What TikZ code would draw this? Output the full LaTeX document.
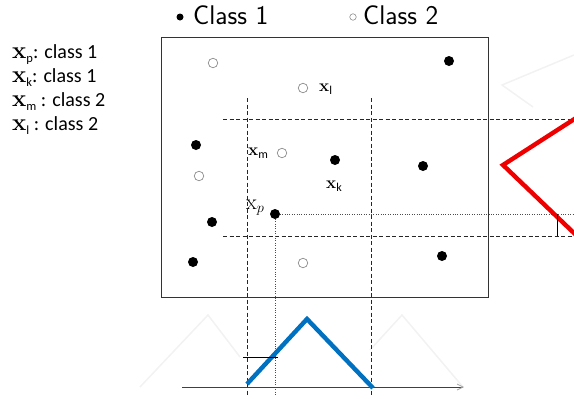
\documentclass[tikz,border=0pt]{standalone}
\usepackage{fontspec}
\newfontfamily\calib{Carlito}
\usetikzlibrary{arrows.meta}
\definecolor{myblue}{RGB}{0,112,192}
\definecolor{myred}{RGB}{238,0,0}
\newcommand\legline[2]{{\fontsize{24}{24}\selectfont\bfseries x}{\calib\fontsize{12.5}{12.5}\selectfont\raisebox{-4pt}{#1}}{\calib\fontsize{20}{20}\selectfont #2}}
\newcommand\boxlbl[1]{{\fontsize{17}{17}\selectfont\bfseries x}{\calib\fontsize{12}{12}\selectfont\raisebox{-3pt}{#1}}}
\begin{document}
\begin{tikzpicture}[x=1pt,y=-1pt,
 cone/.style={circle,fill=black,inner sep=0pt,minimum size=10pt},
 ctwo/.style={circle,draw=black!45,line width=0.7pt,fill=white,inner sep=0pt,minimum size=9.5pt},
 dsh/.style={dash pattern=on 4pt off 2.5pt, line width=0.7pt, black!85},
 dtt/.style={dash pattern=on 1pt off 1.4pt, line width=0.9pt, black!70},
 lbl/.style={inner sep=0pt, anchor=base west},
 ghost/.style={black!5, line width=1.5pt},
 tri/.style={line width=4.4pt, line join=miter}
]
\useasboundingbox (0,0) rectangle (574,399);
% ghost triangles
\draw[ghost] (140,387) -- (208,315) -- (240,357);
\draw[ghost] (370,350) -- (402,315) -- (463,387);
\draw[ghost] (574,55) -- (502,85) -- (533,107);
% legend
\node[circle,fill=black,inner sep=0pt,minimum size=7pt] (lg1) at (180,17) {};
\node[lbl,font=\sffamily\fontsize{27}{27}\selectfont] (lt1) at (193,24) {Class 1};
\node[circle,draw=black!45,line width=0.6pt,inner sep=0pt,minimum size=6.5pt] (lg2) at (353,17) {};
\node[lbl,font=\sffamily\fontsize{27}{27}\selectfont] (lt2) at (363,24) {Class 2};
% left text
\node[lbl] (tp) at (12,58) {\legline{p}{: class 1}};
\node[lbl] (tk) at (12,82) {\legline{k}{: class 1}};
\node[lbl] (tm) at (12,106) {\legline{m}{ : class 2}};
\node[lbl] (tl) at (12,130) {\legline{l}{ : class 2}};
% box
\node[draw=black!80,line width=1.1pt,inner sep=0pt,minimum width=327pt,minimum height=260pt,anchor=north west] (box) at (161,37) {};
% dashed grid
\coordinate (v1t) at (247,98); \coordinate (v1b) at (247,396);
\coordinate (v2t) at (371,98); \coordinate (v2b) at (371,396);
\coordinate (h1l) at (223,119); \coordinate (h1r) at (576,119);
\coordinate (h2l) at (223,236); \coordinate (h2r) at (576,236);
\draw[dsh] (v1t) -- (v1b);
\draw[dsh] (v2t) -- (v2b);
\draw[dsh] (h1l) -- (h1r);
\draw[dsh] (h2l) -- (h2r);
% points
\node[ctwo] (a1) at (213,63) {};
\node[cone] (a2) at (449,61) {};
\node[ctwo] (a3) at (303,88) {};
\node[cone] (a4) at (196,145) {};
\node[ctwo] (xm) at (282,153) {};
\node[cone] (xk) at (335,160) {};
\node[cone] (a5) at (423,166) {};
\node[ctwo] (a6) at (199,176) {};
\node[cone] (a7) at (212,222) {};
\node[cone] (a8) at (193,262) {};
\node[ctwo] (a9) at (303,263) {};
\node[cone] (a10) at (442,256) {};
% dotted from x_p
\coordinate (pr) at (576,214);
\coordinate (pb) at (275,396);
\draw[dtt] (275,214) -- (pr);
\draw[dtt] (275,214) -- (pb);
\node[cone] (xp) at (275,214) {};
% labels in box
\node[lbl] (ll) at (319,91) {\boxlbl{l}};
\node[lbl] (lm) at (248,155) {\boxlbl{m}};
\node[lbl] (lk) at (326,188) {\boxlbl{k}};
\node[lbl,text=black] (lp) at (246,209) {\fontsize{22}{22}\selectfont$\mathrm{x}_p$};
% red membership function
\coordinate (r1) at (576,118);
\coordinate (r2) at (503,165);
\coordinate (r3) at (576,235);
\draw[tri,myred] (r1) -- (r2) -- (r3);
\coordinate (rt1) at (557,214); \coordinate (rt2) at (557,236);
\draw[line width=0.8pt] (rt1) -- (rt2);
% axis
\coordinate (ax1) at (182,387); \coordinate (ax2) at (464,387);
\draw[black!75,line width=0.8pt,-{Straight Barb[length=6pt,width=6pt,black!35]}] (ax1) -- (ax2);
% blue membership function
\coordinate (b1) at (247,384);
\coordinate (b2) at (307,319);
\coordinate (b3) at (373,388);
\draw[tri,myblue] (b1) -- (b2) -- (b3);
\coordinate (bt1) at (243,357); \coordinate (bt2) at (278,357);
\draw[line width=0.8pt] (bt1) -- (bt2);
\end{tikzpicture}
\end{document}
